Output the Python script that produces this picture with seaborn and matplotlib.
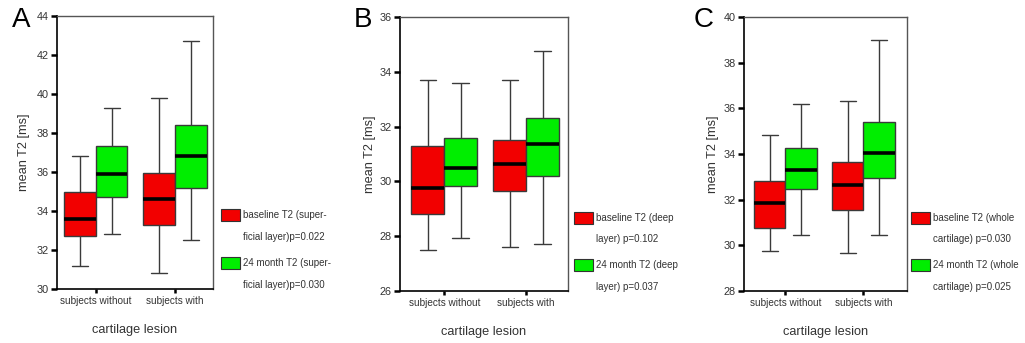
import numpy as np
import pandas as pd
import matplotlib
matplotlib.use("Agg")
import matplotlib.pyplot as plt
import seaborn as sns
from matplotlib.patches import Rectangle

# ---------------- data ----------------
groups = ["subjects without", "subjects with"]
series = ["baseline", "24 month"]

# five-number summaries per box: [whisker low, Q1, median, Q3, whisker high]
A_baseline = [[31.2, 32.7, 33.6, 35.0, 36.8], [30.8, 33.3, 34.6, 35.95, 39.8]]
A_month24 = [[32.8, 34.7, 35.9, 37.35, 39.3], [32.5, 35.2, 36.8, 38.4, 42.7]]
B_baseline = [[27.5, 28.8, 29.75, 31.3, 33.7], [27.6, 29.65, 30.65, 31.5, 33.7]]
B_month24 = [[27.95, 29.85, 30.5, 31.6, 33.6], [27.7, 30.2, 31.35, 32.3, 34.75]]
C_baseline = [[29.75, 30.75, 31.85, 32.8, 34.85], [29.65, 31.55, 32.65, 33.65, 36.3]]
C_month24 = [[30.45, 32.45, 33.3, 34.25, 36.2], [30.45, 32.95, 34.05, 35.4, 39.0]]

A_yticks = [30, 32, 34, 36, 38, 40, 42, 44]
B_yticks = [26, 28, 30, 32, 34, 36]
C_yticks = [28, 30, 32, 34, 36, 38, 40]

A_legend = [["baseline T2 (super-", "ficial layer)p=0.022"],
            ["24 month T2 (super-", "ficial layer)p=0.030"]]
B_legend = [["baseline T2 (deep", "layer) p=0.102"],
            ["24 month T2 (deep", "layer) p=0.037"]]
C_legend = [["baseline T2 (whole", "cartilage) p=0.030"],
            ["24 month T2 (whole", "cartilage) p=0.025"]]

panel_letters = ["A", "B", "C"]
y_label = "mean T2 [ms]"
x_label = "cartilage lesion"

RED = "#f20000"
GREEN = "#00ee00"
COLORS = [RED, GREEN]

# ---------------- style ----------------
sns.set_style("ticks")
plt.rcParams["font.family"] = ["Liberation Sans", "DejaVu Sans"]

fig = plt.figure(figsize=(10.25, 3.43), dpi=100)
H = 343.0

panels = [
    dict(base=A_baseline, m24=A_month24, yticks=A_yticks, legend=A_legend,
         rect=[57 / 1025, 54 / H, 156 / 1025, 273 / H], xlim=(-0.49, 1.48),
         ylab_x=-0.175, leg_x=221 / 1025, leg_centers=(218, 266),
         letter_x=12 / 1025),
    dict(base=B_baseline, m24=B_month24, yticks=B_yticks, legend=B_legend,
         rect=[400 / 1025, 52 / H, 168 / 1025, 274 / H], xlim=(-0.54, 1.51),
         ylab_x=-0.14, leg_x=574 / 1025, leg_centers=(220.5, 268),
         letter_x=354 / 1025),
    dict(base=C_baseline, m24=C_month24, yticks=C_yticks, legend=C_legend,
         rect=[744 / 1025, 52 / H, 163 / 1025, 274 / H], xlim=(-0.53, 1.56),
         ylab_x=-0.155, leg_x=911 / 1025, leg_centers=(220.5, 268),
         letter_x=694 / 1025),
]

FS_LEG = 7.0
HANDLE_H = 1.52
fs_px = FS_LEG * 100 / 72
descent_px = 0.35 * fs_px * (HANDLE_H - 0.7)
patch_px = fs_px * HANDLE_H - descent_px
offset_px = descent_px + patch_px / 2  # row top -> patch centre

for letter, p in zip(panel_letters, panels):
    rows = []
    for gi, g in enumerate(groups):
        for v in p["base"][gi]:
            rows.append((g, series[0], v))
        for v in p["m24"][gi]:
            rows.append((g, series[1], v))
    df = pd.DataFrame(rows, columns=["group", "series", "value"])

    ax = fig.add_axes(p["rect"])
    sns.boxplot(data=df, x="group", y="value", hue="series",
                order=groups, hue_order=series, palette=COLORS,
                saturation=1, width=0.8, gap=0, whis=np.inf,
                linecolor="#3a3a3a", linewidth=1.0,
                medianprops=dict(color="black", linewidth=2.6),
                legend=False, ax=ax)

    ax.set_ylim(p["yticks"][0], p["yticks"][-1])
    ax.set_yticks(p["yticks"])
    ax.set_xlim(*p["xlim"])
    ax.set_xlabel(x_label, fontsize=9.2, color="#333333")
    ax.set_ylabel(y_label, fontsize=9.2, color="#333333")
    ax.xaxis.set_label_coords(0.5, -0.128)
    ax.yaxis.set_label_coords(p["ylab_x"], 0.5)

    ax.tick_params(axis="y", length=4, width=1.8, color="black", pad=2,
                   labelsize=7.8, labelcolor="#333333")
    ax.tick_params(axis="x", length=3, width=1.8, color="black", pad=2,
                   labelsize=7.2, labelcolor="#333333")
    for side in ["left", "bottom"]:
        ax.spines[side].set_color("black")
        ax.spines[side].set_linewidth(1.2)
    for side in ["top", "right"]:
        ax.spines[side].set_color("#555555")
        ax.spines[side].set_linewidth(1.0)

    # one small legend per series: coloured patch on the first text line
    legs = []
    for k, (labels, center) in enumerate(zip(p["legend"], p["leg_centers"])):
        handles = [
            Rectangle((0, 0), 1, 1, facecolor=COLORS[k], edgecolor="#333333",
                      linewidth=0.8),
            Rectangle((0, 0), 1, 1, facecolor="none", edgecolor="none"),
        ]
        top = 1 - (center - offset_px) / H
        leg = ax.legend(handles, labels, loc="upper left",
                        bbox_to_anchor=(p["leg_x"], top),
                        bbox_transform=fig.transFigure,
                        frameon=False, fontsize=FS_LEG, handlelength=1.95,
                        handleheight=HANDLE_H, handletextpad=0.3,
                        labelspacing=0.94, borderpad=0, borderaxespad=0)
        for t in leg.get_texts():
            t.set_color("#333333")
        legs.append(leg)
    for leg in legs[:-1]:
        ax.add_artist(leg)

    fig.text(p["letter_x"], 1 - 20 / H, letter, fontsize=20, ha="left",
             va="center", color="black")

fig.savefig("out.png", dpi=100)
